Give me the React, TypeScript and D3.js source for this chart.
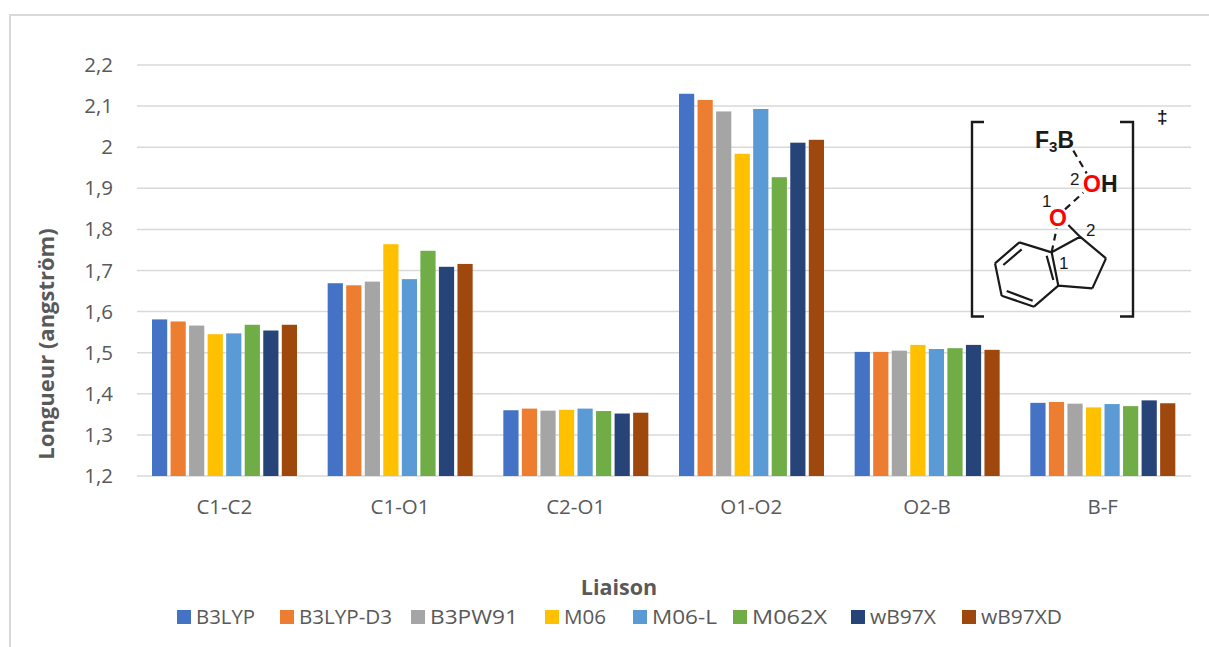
import React from 'react';
import * as d3 from 'd3';

const categories = ['C1-C2', 'C1-O1', 'C2-O1', 'O1-O2', 'O2-B', 'B-F'];
const seriesNames = ['B3LYP', 'B3LYP-D3', 'B3PW91', 'M06', 'M06-L', 'M062X', 'wB97X', 'wB97XD'];
const seriesColors = ['#4472C4', '#ED7D31', '#A5A5A5', '#FFC000', '#5B9BD5', '#70AD47', '#264478', '#9E480E'];
const b3lyp = [1.581, 1.669, 1.36, 2.13, 1.502, 1.378];
const b3lypD3 = [1.576, 1.664, 1.364, 2.115, 1.502, 1.38];
const b3pw91 = [1.566, 1.673, 1.359, 2.087, 1.505, 1.376];
const m06 = [1.545, 1.764, 1.361, 1.984, 1.519, 1.367];
const m06L = [1.547, 1.679, 1.364, 2.093, 1.509, 1.375];
const m062x = [1.568, 1.748, 1.358, 1.927, 1.511, 1.37];
const wb97x = [1.554, 1.709, 1.352, 2.011, 1.519, 1.384];
const wb97xd = [1.568, 1.716, 1.354, 2.018, 1.507, 1.377];
const seriesValues = [b3lyp, b3lypD3, b3pw91, m06, m06L, m062x, wb97x, wb97xd];
const yTicks = [1.2, 1.3, 1.4, 1.5, 1.6, 1.7, 1.8, 1.9, 2, 2.1, 2.2];
const legendX = [177, 280, 411, 545, 633, 733, 851, 962];
const legendTextWidth = [59, 93, 88, 42, 65, 75, 66, 81];

const FONT = '"Open Sans", sans-serif';
const TXT = '#595959';
const x0 = d3.scaleBand<string>().domain(categories).range([137, 1191]);
const x1 = d3.scaleBand<string>().domain(seriesNames).range([15, 160]).paddingInner(0.18).paddingOuter(0);
const y = d3.scaleLinear().domain([1.2, 2.2]).range([476, 65]);

// molecule sketch, in px
const mx = (c: number) => 950 + c / 3;
const my = (c: number) => 90 + c / 3;
const seg = (a: number, b: number, c: number, d: number) => `M${mx(a)},${my(b)}L${mx(c)},${my(d)}`;
const solid = [
  seg(208, 457, 135, 520), seg(135, 520, 155, 617), seg(155, 617, 252, 650), seg(252, 650, 325, 587),
  seg(325, 587, 305, 487), seg(305, 487, 208, 457), seg(215, 478, 160, 525), seg(170, 603, 248, 632),
  seg(310, 570, 290, 497), seg(305, 487, 390, 440), seg(390, 440, 468, 505), seg(468, 505, 427, 595),
  seg(427, 595, 325, 587), seg(355, 405, 390, 440),
].join('');
const dashed = [seg(305, 487, 320, 415), seg(345, 358, 400, 308), seg(370, 182, 410, 250)].join('');
const brackets = `M984,122H972V316.5H984M1120,122H1133V316.5H1120`;

export default function App() {
  return (
    <svg width={1209} height={647} style={{ position: 'absolute', left: 0, top: 0, background: '#fff' }} fontFamily={FONT}>
      <path d="M1209,15H10V647" fill="none" stroke="#D9D9D9" strokeWidth={2} />
      {yTicks.map((t) => (
        <g key={t}>
          <line x1={137} x2={1191} y1={y(t)} y2={y(t)} stroke="#D9D9D9" strokeWidth={1.5} />
          <text x={113} y={y(t) + 7} textAnchor="end" fontSize={20.5} fill={TXT}>{String(t).replace('.', ',')}</text>
        </g>
      ))}
      {categories.map((c, i) => (
        <g key={c} transform={`translate(${x0(c)},0)`}>
          {seriesNames.map((s, j) => (
            <rect key={s} x={x1(s)} width={x1.bandwidth()} y={y(seriesValues[j][i])} height={y(1.2) - y(seriesValues[j][i])} fill={seriesColors[j]} />
          ))}
          <text x={x0.bandwidth() / 2 - 0.5} y={514} textAnchor="middle" fontSize={20.5} fill={TXT}>{c}</text>
        </g>
      ))}
      <text transform="translate(54,344) rotate(-90)" textAnchor="middle" fontSize={22} fontWeight={700} fill={TXT}>Longueur (angström)</text>
      <text x={619} y={595} textAnchor="middle" fontSize={21.5} fontWeight={700} fill={TXT}>Liaison</text>
      {seriesNames.map((s, j) => (
        <g key={s}>
          <rect x={legendX[j]} y={610} width={14} height={14} fill={seriesColors[j]} />
          <text x={legendX[j] + 19} y={624} fontSize={20.5} fill={TXT} textLength={legendTextWidth[j]} lengthAdjust="spacingAndGlyphs">{s}</text>
        </g>
      ))}
      <g fill="none" stroke="#1a1a1a" strokeWidth={2.2}>
        <path d={solid} />
        <path d={dashed} strokeDasharray="7 5" />
      </g>
      <path d={brackets} fill="none" stroke="#1a1a1a" strokeWidth={2.4} />
      <g fontFamily='"Liberation Sans", sans-serif' fill="#1a1a1a">
        <text x={1035} y={148} fontSize={23} fontWeight={700}>F<tspan fontSize={15} dy={4}>3</tspan><tspan dy={-4}>B</tspan></text>
        <text x={1083} y={192} fontSize={23} fontWeight={700} fill="#FF0000">O</text>
        <text x={1101} y={192} fontSize={23} fontWeight={700}>H</text>
        <text x={1049} y={226} fontSize={23} fontWeight={700} fill="#FF0000">O</text>
        <text x={1070} y={185} fontSize={17}>2</text>
        <text x={1042} y={207} fontSize={17}>1</text>
        <text x={1086} y={236} fontSize={17}>2</text>
        <text x={1059} y={269} fontSize={17}>1</text>
        <text x={1157} y={123} fontSize={19} fontWeight={700}>‡</text>
      </g>
    </svg>
  );
}
